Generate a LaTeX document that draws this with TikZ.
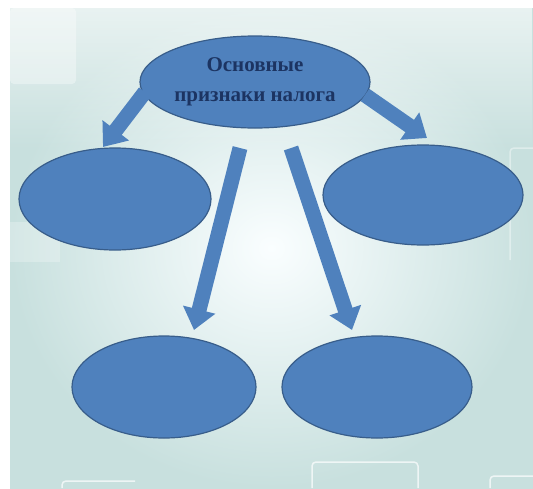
\documentclass[tikz,border=0pt]{standalone}
\usepackage{fontspec}
\setmainfont{Liberation Serif}
\definecolor{ovalblue}{RGB}{79, 129, 189}
\definecolor{ovalline}{RGB}{56, 93, 138}
\definecolor{titleblue}{RGB}{28, 52, 98}
\definecolor{bgedge}{RGB}{200, 224, 222}
\definecolor{bgmid}{RGB}{250, 254, 255}
\usetikzlibrary{arrows.meta,positioning,shapes.geometric,fadings}

\begin{document}
\begin{tikzpicture}[x=1pt,y=-1pt,>=stealth,
    oval/.style={ellipse,draw=ovalline,line width=1.2pt,fill=ovalblue,inner sep=0pt},
    bigarrow/.style={line width=15pt,draw=ovalblue,-{Triangle[length=21pt,width=32pt]}},
    deco/.style={draw=white,line width=1.5pt,rounded corners=4pt,opacity=0.7}]
        \useasboundingbox (0,0) rectangle (533,488);
        \fill[white] (0,0) rectangle (533,488);
        \shade[inner color=bgmid,outer color=bgedge] (10,8) rectangle (533,488);
        \fill[white,fill opacity=0.6,path fading=south] (10,8) rectangle (533,150);
        % faint panels of the background
        \fill[white,opacity=0.35,rounded corners=4pt] (10,8) rectangle (76,84);
        \fill[white,opacity=0.25] (10,222) rectangle (60,262);
        \draw[deco] (312,488) -- (312,462) -- (418,462) -- (418,488);
        \draw[deco] (490,488) -- (490,476) -- (533,476);
        \draw[deco] (62,488) -- (62,481) -- (135,481);
        \draw[deco,opacity=0.4] (533,148) -- (510,148) -- (510,260);

        \node[oval,minimum width=230,minimum height=92,text=titleblue,align=center,
              font=\bfseries\fontsize{21}{30}\selectfont] (tax) at (255,82) {Основные\\признаки налога};
        \node[oval,minimum width=192,minimum height=102] (left) at (115,199) {};
        \node[oval,minimum width=200,minimum height=100] (right) at (423,195) {};
        \node[oval,minimum width=184,minimum height=102] (botleft) at (164,387) {};
        \node[oval,minimum width=190,minimum height=102] (botright) at (377,387) {};

        \draw[bigarrow] ([shift={(-110,10)}]tax.center) -- ([shift={(-12,-52)}]left.center);
        \draw[bigarrow] ([shift={(110,13)}]tax.center) -- ([shift={(4,-57)}]right.center);
        \draw[bigarrow] ([shift={(-15,66)}]tax.center) -- ([shift={(30,-57)}]botleft.center);
        \draw[bigarrow] ([shift={(36,66)}]tax.center) -- ([shift={(-25,-57)}]botright.center);
      \end{tikzpicture}
\end{document}
